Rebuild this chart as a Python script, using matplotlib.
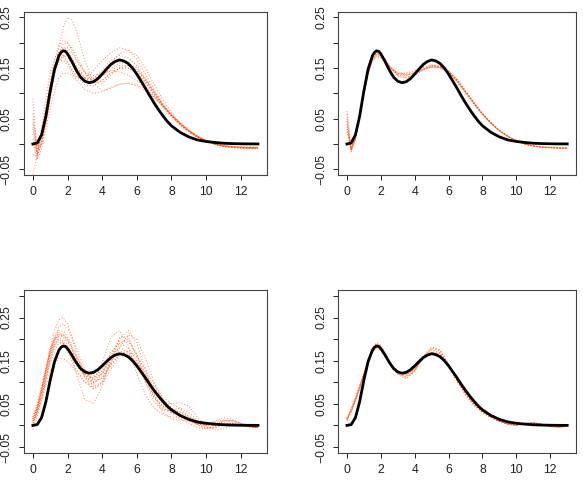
from matplotlib import pyplot as plt
import numpy as np

plt.rcParams['font.family'] = ['Liberation Sans', 'DejaVu Sans']

# true density (black curve)
x_true = [0, 0.25, 0.5, 0.75, 1.0, 1.25, 1.5, 1.625, 1.75, 1.875, 2.0, 2.25, 2.5, 2.75, 3.0, 3.25,
          3.5, 3.75, 4.0, 4.25, 4.5, 4.75, 5.0, 5.25, 5.5, 5.75, 6.0, 6.25, 6.5, 6.75,
          7.0, 7.25, 7.5, 7.75, 8.0, 8.5, 9.0, 9.5, 10, 10.5, 11, 11.5, 12, 12.5, 13]
y_true = [0.0, 0.002, 0.018, 0.055, 0.105, 0.148, 0.174, 0.181, 0.184, 0.183, 0.178, 0.163, 0.146,
          0.132, 0.124, 0.121, 0.123, 0.129, 0.138, 0.148, 0.157, 0.163, 0.166, 0.164,
          0.159, 0.150, 0.138, 0.124, 0.110, 0.095, 0.081, 0.068, 0.056, 0.045, 0.036,
          0.023, 0.014, 0.008, 0.005, 0.003, 0.0015, 0.0008, 0.0004, 0.0002, 0.0001]

# grid of the estimated curves (orange dotted)
x_est = [0, 0.25, 0.5, 0.75, 1.0, 1.25, 1.5, 1.75, 2.0, 2.25, 2.5, 3.0, 3.5, 4.0, 4.5,
         5.0, 5.5, 6.0, 6.5, 7.0, 7.5, 8.0, 8.5, 9.0, 9.5, 10, 10.5, 11, 11.5, 12, 12.5, 13]

# top left
est_tl = [
    [0.01, -0.02, 0.0, 0.04, 0.09, 0.14, 0.19, 0.23, 0.25, 0.245, 0.225, 0.165, 0.12, 0.105, 0.11, 0.118, 0.12, 0.115, 0.105, 0.092, 0.075, 0.058, 0.042, 0.028, 0.016, 0.007, 0.001, -0.003, -0.005, -0.006, -0.007, -0.007],
    [0.09, -0.03, 0.01, 0.06, 0.11, 0.15, 0.178, 0.19, 0.185, 0.17, 0.155, 0.132, 0.125, 0.135, 0.15, 0.16, 0.16, 0.15, 0.128, 0.103, 0.078, 0.057, 0.04, 0.026, 0.015, 0.006, 0.0, -0.004, -0.006, -0.007, -0.008, -0.008],
    [-0.06, -0.02, 0.03, 0.09, 0.14, 0.17, 0.18, 0.175, 0.162, 0.147, 0.133, 0.117, 0.115, 0.125, 0.14, 0.15, 0.15, 0.14, 0.12, 0.097, 0.074, 0.054, 0.038, 0.025, 0.014, 0.006, 0.0, -0.004, -0.006, -0.007, -0.008, -0.008],
    [0.03, -0.01, 0.01, 0.05, 0.1, 0.145, 0.18, 0.198, 0.2, 0.19, 0.175, 0.142, 0.122, 0.12, 0.135, 0.15, 0.155, 0.147, 0.125, 0.1, 0.076, 0.056, 0.039, 0.025, 0.014, 0.006, 0.0, -0.004, -0.006, -0.007, -0.007, -0.008],
    [0.0, -0.03, -0.01, 0.03, 0.07, 0.105, 0.13, 0.14, 0.14, 0.136, 0.132, 0.131, 0.145, 0.165, 0.18, 0.19, 0.185, 0.167, 0.138, 0.107, 0.08, 0.057, 0.038, 0.024, 0.013, 0.005, -0.001, -0.005, -0.007, -0.008, -0.009, -0.009],
    [0.02, -0.02, 0.02, 0.07, 0.12, 0.15, 0.165, 0.165, 0.156, 0.142, 0.127, 0.107, 0.1, 0.103, 0.112, 0.118, 0.12, 0.117, 0.108, 0.093, 0.075, 0.057, 0.041, 0.027, 0.016, 0.008, 0.002, -0.002, -0.004, -0.005, -0.006, -0.006],
    [0.05, -0.01, 0.0, 0.04, 0.09, 0.14, 0.175, 0.19, 0.19, 0.18, 0.165, 0.14, 0.13, 0.135, 0.145, 0.155, 0.155, 0.146, 0.127, 0.102, 0.078, 0.057, 0.04, 0.026, 0.015, 0.006, 0.0, -0.004, -0.006, -0.007, -0.007, -0.007],
    [-0.02, -0.025, 0.005, 0.05, 0.1, 0.14, 0.165, 0.175, 0.175, 0.166, 0.152, 0.13, 0.12, 0.125, 0.14, 0.15, 0.15, 0.141, 0.122, 0.099, 0.076, 0.056, 0.039, 0.025, 0.014, 0.006, 0.0, -0.004, -0.006, -0.007, -0.008, -0.008],
    [0.04, -0.02, 0.0, 0.05, 0.1, 0.14, 0.163, 0.17, 0.162, 0.148, 0.136, 0.125, 0.13, 0.146, 0.165, 0.175, 0.17, 0.155, 0.13, 0.103, 0.078, 0.056, 0.038, 0.024, 0.013, 0.005, -0.001, -0.005, -0.007, -0.008, -0.008, -0.009],
    [0.0, -0.015, 0.02, 0.07, 0.12, 0.165, 0.195, 0.205, 0.2, 0.186, 0.167, 0.142, 0.135, 0.14, 0.145, 0.142, 0.136, 0.126, 0.112, 0.094, 0.075, 0.057, 0.041, 0.027, 0.015, 0.007, 0.001, -0.003, -0.005, -0.006, -0.007, -0.007],
    [0.06, -0.005, 0.015, 0.055, 0.1, 0.14, 0.165, 0.175, 0.17, 0.16, 0.148, 0.13, 0.128, 0.14, 0.16, 0.178, 0.185, 0.175, 0.15, 0.118, 0.088, 0.062, 0.042, 0.026, 0.014, 0.005, -0.001, -0.005, -0.007, -0.008, -0.009, -0.009],
]

# top right
est_tr = [
    [0.04, -0.012, 0.012, 0.055, 0.1, 0.14, 0.168, 0.178, 0.175, 0.165, 0.152, 0.138, 0.135, 0.14, 0.148, 0.153, 0.152, 0.143, 0.126, 0.104, 0.081, 0.06, 0.042, 0.027, 0.015, 0.006, 0.0, -0.004, -0.006, -0.007, -0.008, -0.008],
    [0.06, -0.015, 0.008, 0.05, 0.098, 0.142, 0.172, 0.184, 0.18, 0.168, 0.153, 0.136, 0.13, 0.136, 0.146, 0.152, 0.151, 0.142, 0.125, 0.103, 0.08, 0.059, 0.041, 0.026, 0.015, 0.006, 0.0, -0.004, -0.006, -0.007, -0.008, -0.008],
    [0.03, -0.008, 0.016, 0.06, 0.103, 0.14, 0.164, 0.172, 0.17, 0.161, 0.15, 0.14, 0.14, 0.145, 0.152, 0.156, 0.154, 0.144, 0.127, 0.105, 0.082, 0.06, 0.042, 0.027, 0.015, 0.006, 0.0, -0.004, -0.006, -0.008, -0.008, -0.009],
    [0.05, -0.01, 0.012, 0.056, 0.1, 0.139, 0.166, 0.176, 0.174, 0.165, 0.153, 0.14, 0.136, 0.14, 0.147, 0.151, 0.15, 0.141, 0.124, 0.102, 0.08, 0.059, 0.041, 0.026, 0.015, 0.006, 0.0, -0.004, -0.006, -0.007, -0.008, -0.008],
    [0.035, -0.014, 0.01, 0.053, 0.099, 0.141, 0.17, 0.181, 0.177, 0.166, 0.152, 0.134, 0.13, 0.137, 0.148, 0.155, 0.154, 0.145, 0.128, 0.105, 0.082, 0.06, 0.042, 0.027, 0.015, 0.006, 0.0, -0.004, -0.006, -0.007, -0.008, -0.008],
    [0.045, -0.011, 0.014, 0.058, 0.102, 0.14, 0.165, 0.174, 0.171, 0.162, 0.151, 0.139, 0.138, 0.144, 0.151, 0.155, 0.152, 0.142, 0.124, 0.102, 0.079, 0.058, 0.04, 0.026, 0.014, 0.006, 0.0, -0.004, -0.006, -0.007, -0.008, -0.008],
    [0.065, -0.009, 0.01, 0.052, 0.097, 0.138, 0.166, 0.177, 0.175, 0.166, 0.154, 0.141, 0.137, 0.141, 0.148, 0.152, 0.15, 0.14, 0.123, 0.101, 0.079, 0.058, 0.041, 0.026, 0.015, 0.006, 0.0, -0.004, -0.006, -0.007, -0.008, -0.008],
    [0.025, -0.013, 0.011, 0.054, 0.1, 0.141, 0.169, 0.18, 0.178, 0.168, 0.155, 0.137, 0.132, 0.138, 0.147, 0.154, 0.153, 0.144, 0.127, 0.104, 0.081, 0.06, 0.042, 0.027, 0.015, 0.006, 0.0, -0.004, -0.006, -0.007, -0.008, -0.008],
]

# bottom left
est_bl = [
    [0.01, 0.04, 0.08, 0.13, 0.18, 0.22, 0.245, 0.25, 0.235, 0.205, 0.17, 0.11, 0.1, 0.145, 0.205, 0.22, 0.185, 0.12, 0.07, 0.04, 0.025, 0.02, 0.018, 0.012, 0.005, 0.002, 0.004, 0.006, 0.003, 0.0, -0.003, -0.004],
    [0.0, 0.03, 0.065, 0.105, 0.145, 0.175, 0.19, 0.19, 0.18, 0.165, 0.148, 0.12, 0.105, 0.12, 0.16, 0.18, 0.17, 0.14, 0.1, 0.065, 0.042, 0.03, 0.022, 0.012, 0.003, 0.0, 0.006, 0.012, 0.01, 0.003, -0.002, -0.004],
    [0.02, 0.045, 0.085, 0.13, 0.175, 0.205, 0.22, 0.218, 0.205, 0.185, 0.162, 0.12, 0.09, 0.1, 0.145, 0.19, 0.2, 0.165, 0.11, 0.065, 0.04, 0.03, 0.025, 0.015, 0.002, -0.008, -0.005, 0.003, 0.005, 0.0, -0.004, -0.005],
    [0.005, 0.03, 0.06, 0.095, 0.125, 0.145, 0.155, 0.155, 0.148, 0.138, 0.125, 0.1, 0.085, 0.095, 0.13, 0.16, 0.16, 0.14, 0.105, 0.07, 0.045, 0.035, 0.032, 0.022, 0.008, -0.004, -0.006, 0.0, 0.004, 0.002, -0.002, -0.004],
    [0.01, 0.035, 0.075, 0.12, 0.165, 0.195, 0.21, 0.205, 0.185, 0.155, 0.12, 0.06, 0.05, 0.09, 0.155, 0.205, 0.205, 0.16, 0.1, 0.055, 0.035, 0.035, 0.04, 0.03, 0.012, 0.0, 0.002, 0.01, 0.012, 0.005, -0.002, -0.005],
    [0.015, 0.04, 0.08, 0.125, 0.168, 0.198, 0.212, 0.21, 0.198, 0.18, 0.16, 0.128, 0.115, 0.125, 0.155, 0.172, 0.168, 0.145, 0.115, 0.085, 0.058, 0.04, 0.027, 0.015, 0.005, 0.0, 0.0, 0.002, 0.002, 0.0, -0.003, -0.004],
    [-0.01, 0.02, 0.06, 0.105, 0.15, 0.185, 0.205, 0.21, 0.2, 0.18, 0.155, 0.11, 0.085, 0.1, 0.15, 0.2, 0.22, 0.19, 0.13, 0.07, 0.03, 0.015, 0.012, 0.01, 0.005, 0.004, 0.01, 0.018, 0.014, 0.004, -0.003, -0.006],
    [0.02, 0.05, 0.09, 0.135, 0.175, 0.2, 0.205, 0.195, 0.178, 0.16, 0.142, 0.115, 0.1, 0.11, 0.14, 0.165, 0.172, 0.16, 0.13, 0.095, 0.065, 0.05, 0.052, 0.045, 0.02, -0.002, -0.01, -0.008, 0.0, 0.003, 0.0, -0.004],
    [0.005, 0.035, 0.07, 0.115, 0.16, 0.19, 0.2, 0.19, 0.17, 0.15, 0.13, 0.1, 0.095, 0.12, 0.165, 0.195, 0.195, 0.165, 0.12, 0.08, 0.05, 0.03, 0.015, 0.005, -0.005, -0.008, 0.0, 0.01, 0.012, 0.006, 0.0, -0.004],
    [0.01, 0.04, 0.08, 0.125, 0.17, 0.205, 0.228, 0.235, 0.225, 0.205, 0.18, 0.13, 0.1, 0.11, 0.14, 0.165, 0.165, 0.145, 0.12, 0.09, 0.06, 0.038, 0.022, 0.01, 0.002, 0.002, 0.008, 0.012, 0.008, 0.001, -0.003, -0.005],
    [0.0, 0.03, 0.07, 0.11, 0.155, 0.185, 0.195, 0.19, 0.175, 0.158, 0.14, 0.115, 0.11, 0.13, 0.17, 0.19, 0.18, 0.15, 0.11, 0.075, 0.055, 0.05, 0.04, 0.02, 0.002, -0.006, -0.004, 0.002, 0.004, 0.002, -0.002, -0.004],
    [0.015, 0.045, 0.085, 0.128, 0.17, 0.2, 0.215, 0.21, 0.195, 0.175, 0.152, 0.12, 0.11, 0.12, 0.145, 0.18, 0.21, 0.2, 0.155, 0.1, 0.06, 0.04, 0.03, 0.02, 0.01, 0.003, 0.0, 0.0, 0.001, 0.0, -0.002, -0.003],
]

# bottom right
est_br = [
    [0.015, 0.036, 0.062, 0.09, 0.12, 0.15, 0.175, 0.188, 0.182, 0.165, 0.146, 0.12, 0.112, 0.128, 0.158, 0.175, 0.168, 0.138, 0.103, 0.073, 0.049, 0.032, 0.02, 0.011, 0.004, 0.001, 0.004, 0.006, 0.003, -0.002, -0.004, -0.002],
    [0.012, 0.032, 0.058, 0.086, 0.116, 0.146, 0.17, 0.18, 0.176, 0.162, 0.146, 0.124, 0.118, 0.132, 0.156, 0.168, 0.163, 0.137, 0.105, 0.076, 0.051, 0.033, 0.02, 0.01, 0.003, 0.0, 0.003, 0.005, 0.003, -0.001, -0.003, -0.002],
    [0.018, 0.038, 0.064, 0.092, 0.122, 0.152, 0.178, 0.192, 0.186, 0.168, 0.147, 0.118, 0.108, 0.125, 0.16, 0.182, 0.175, 0.142, 0.104, 0.072, 0.047, 0.03, 0.018, 0.009, 0.002, 0.0, 0.005, 0.007, 0.003, -0.003, -0.004, -0.002],
    [0.014, 0.034, 0.06, 0.087, 0.117, 0.147, 0.171, 0.182, 0.179, 0.165, 0.148, 0.125, 0.117, 0.13, 0.154, 0.17, 0.167, 0.14, 0.107, 0.077, 0.051, 0.034, 0.021, 0.011, 0.004, 0.001, 0.003, 0.005, 0.003, -0.001, -0.003, -0.002],
    [0.016, 0.037, 0.061, 0.089, 0.119, 0.149, 0.174, 0.186, 0.18, 0.163, 0.145, 0.121, 0.113, 0.127, 0.157, 0.178, 0.172, 0.14, 0.103, 0.073, 0.048, 0.031, 0.019, 0.01, 0.003, 0.001, 0.005, 0.006, 0.002, -0.002, -0.004, -0.002],
    [0.011, 0.031, 0.057, 0.085, 0.115, 0.145, 0.169, 0.178, 0.174, 0.16, 0.145, 0.125, 0.12, 0.134, 0.155, 0.166, 0.162, 0.138, 0.107, 0.078, 0.053, 0.035, 0.022, 0.012, 0.004, 0.001, 0.003, 0.004, 0.002, -0.001, -0.003, -0.002],
    [0.017, 0.037, 0.063, 0.091, 0.121, 0.151, 0.176, 0.19, 0.184, 0.166, 0.146, 0.119, 0.11, 0.126, 0.159, 0.18, 0.174, 0.141, 0.102, 0.07, 0.046, 0.03, 0.018, 0.009, 0.003, 0.001, 0.006, 0.007, 0.002, -0.003, -0.004, -0.002],
    [0.013, 0.033, 0.059, 0.088, 0.118, 0.148, 0.172, 0.183, 0.178, 0.162, 0.145, 0.122, 0.116, 0.131, 0.155, 0.169, 0.165, 0.139, 0.106, 0.075, 0.05, 0.033, 0.02, 0.011, 0.004, 0.001, 0.004, 0.005, 0.002, -0.002, -0.003, -0.002],
]

x_ticks = [0, 2, 4, 6, 8, 10, 12]
y_ticks_top = [-0.05, 0.0, 0.05, 0.10, 0.15, 0.20, 0.25]
y_labels_top = ['\u22120.05', '', '0.05', '', '0.15', '', '0.25']
y_ticks_bot = [-0.05, 0.0, 0.05, 0.10, 0.15, 0.20, 0.25, 0.30]
y_labels_bot = ['\u22120.05', '', '0.05', '', '0.15', '', '0.25', '']

fig = plt.figure(figsize=(5.83, 4.84), dpi=100)

panels = [
    ([0.041, 0.639, 0.417, 0.336], est_tl, (-0.0607, 0.2605), y_ticks_top, y_labels_top),
    ([0.580, 0.639, 0.408, 0.336], est_tr, (-0.0607, 0.2605), y_ticks_top, y_labels_top),
    ([0.041, 0.0634, 0.417, 0.3368], est_bl, (-0.0646, 0.313), y_ticks_bot, y_labels_bot),
    ([0.580, 0.0634, 0.408, 0.3368], est_br, (-0.0646, 0.313), y_ticks_bot, y_labels_bot),
]

for pos, curves, ylim, yt, yl in panels:
    ax = fig.add_axes(pos)
    for c in curves:
        ax.plot(x_est, c, color='#ff4500', lw=0.7, alpha=0.65, dashes=(1, 2))
    ax.plot(x_true, y_true, color='black', lw=2.0, solid_joinstyle='round')
    ax.set_xlim(-0.52, 13.52)
    ax.set_ylim(*ylim)
    ax.set_xticks(x_ticks)
    ax.set_xticklabels([str(t) for t in x_ticks])
    ax.set_yticks(yt)
    ax.set_yticklabels(yl, rotation=90, va='center')
    ax.tick_params(length=3.5, width=0.7, labelsize=8.8, pad=4.5, colors='#222222')
    for s in ax.spines.values():
        s.set_color('#444444')
        s.set_linewidth(0.8)

plt.savefig('out.png', dpi=100)
